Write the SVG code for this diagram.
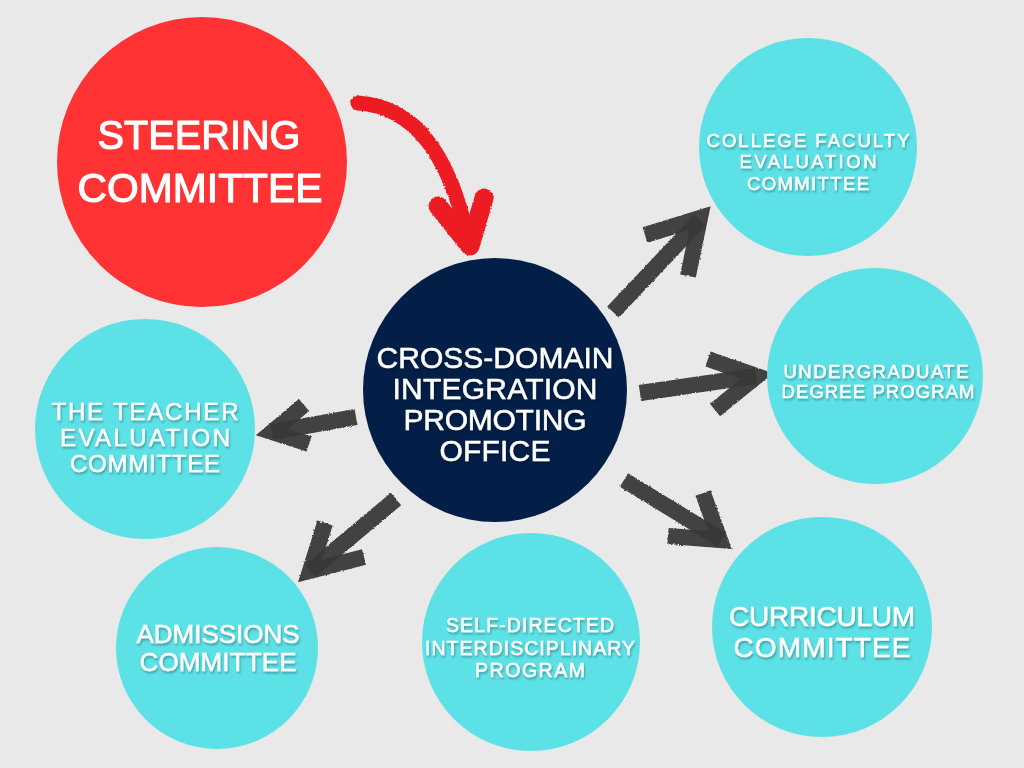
<svg xmlns="http://www.w3.org/2000/svg" width="1024" height="768" viewBox="0 0 1024 768">
  <defs>
    <filter id="noise" x="0" y="0" width="100%" height="100%">
      <feTurbulence type="fractalNoise" baseFrequency="0.9" numOctaves="2" seed="3" result="n"/>
      <feColorMatrix type="matrix" values="0 0 0 0 0.5  0 0 0 0 0.5  0 0 0 0 0.5  0 0 0 0.08 0"/>
    </filter>
    <filter id="shadow" x="-10%" y="-30%" width="120%" height="160%">
      <feDropShadow dx="1" dy="2" stdDeviation="1.2" flood-color="#000" flood-opacity="0.3"/>
    </filter>
    <filter id="rough" x="-10%" y="-10%" width="120%" height="120%">
      <feTurbulence type="fractalNoise" baseFrequency="0.6" numOctaves="2" seed="7" result="t"/>
      <feDisplacementMap in="SourceGraphic" in2="t" scale="2.5" xChannelSelector="R" yChannelSelector="G"/>
    </filter>
    <style>
      .bg { fill: #ebebeb; }
      .cyan { fill: #5ce1e6; }
      .red { fill: #ff3333; }
      .navy { fill: #031f47; }
      .t { font-family: "Liberation Sans", Arial, sans-serif; fill: #ffffff; text-anchor: middle; }
      .ts { filter: url(#shadow); stroke: #ffffff; stroke-width: 0.5; }
      .th { stroke: #ffffff; stroke-width: 1.1; }
      .mk { fill: none; stroke: #383838; stroke-width: 16; stroke-linecap: butt; stroke-linejoin: miter; opacity: 0.95; }
      .rd { fill: none; stroke: #ed1c24; stroke-linecap: round; stroke-linejoin: round; }
    </style>
  </defs>

  <rect class="bg" x="0" y="0" width="1024" height="768"/>
  <rect x="0" y="0" width="1024" height="768" filter="url(#noise)"/>

  <g id="connectors">
    <g id="arrow-steering" filter="url(#rough)">
      <path class="rd" d="M358,103 Q440,108 468,240" stroke-width="15"/>
      <path class="rd" d="M359,102 Q400,104 425,130" stroke-width="6"/>
      <polyline class="rd" points="438,206 470,246 484,198" stroke-width="19"/>
    </g>
    <g filter="url(#rough)">
      <g id="arrow-college">
        <path class="mk" d="M613,312 L700,220"/>
        <polyline class="mk" points="645,235 700,218 688,276"/>
      </g>
      <g id="arrow-undergrad">
        <path class="mk" d="M640,393 L756,376"/>
        <polyline class="mk" points="708,359 757,376 715,410"/>
      </g>
      <g id="arrow-teacher">
        <path class="mk" d="M356,417 L272,432"/>
        <polyline class="mk" points="304,405 272,432 309,444"/>
      </g>
      <g id="arrow-admissions">
        <path class="mk" d="M396,499 L310,571"/>
        <polyline class="mk" points="325,523 310,571 364,557"/>
      </g>
      <g id="arrow-curriculum">
        <path class="mk" d="M624,480 L722,540"/>
        <polyline class="mk" points="703,493 720,540 668,536"/>
      </g>
    </g>
  </g>

  <g id="steering-committee">
    <circle class="red" cx="202" cy="162" r="145"/>
    <g class="t th" font-size="40">
      <text x="199" y="149" textLength="203" lengthAdjust="spacingAndGlyphs">STEERING</text>
      <text x="200" y="202" textLength="245" lengthAdjust="spacingAndGlyphs">COMMITTEE</text>
    </g>
  </g>

  <g id="cross-domain-office">
    <circle class="navy" cx="495" cy="390" r="132"/>
    <g class="t ts" font-size="30" stroke-width="1.1">
      <text x="495" y="368" textLength="237" lengthAdjust="spacing">CROSS-DOMAIN</text>
      <text x="495" y="399" textLength="205" lengthAdjust="spacing">INTEGRATION</text>
      <text x="495" y="430" textLength="183" lengthAdjust="spacing">PROMOTING</text>
      <text x="495" y="461" textLength="111" lengthAdjust="spacing">OFFICE</text>
    </g>
  </g>

  <g id="college-faculty-evaluation-committee">
    <circle class="cyan" cx="808" cy="147" r="109"/>
    <g class="t ts" font-size="18.5">
      <text x="808" y="147" textLength="203" lengthAdjust="spacing">COLLEGE FACULTY</text>
      <text x="808" y="168" textLength="137" lengthAdjust="spacing">EVALUATION</text>
      <text x="808" y="190" textLength="122" lengthAdjust="spacing">COMMITTEE</text>
    </g>
  </g>

  <g id="undergraduate-degree-program">
    <circle class="cyan" cx="875" cy="376" r="108"/>
    <g class="t ts" font-size="18.5">
      <text x="876" y="378" textLength="185" lengthAdjust="spacing">UNDERGRADUATE</text>
      <text x="878" y="398" textLength="193" lengthAdjust="spacing">DEGREE PROGRAM</text>
    </g>
  </g>

  <g id="teacher-evaluation-committee">
    <circle class="cyan" cx="145" cy="429" r="110"/>
    <g class="t ts" font-size="24">
      <text x="145" y="420" textLength="187" lengthAdjust="spacing">THE TEACHER</text>
      <text x="145" y="446" textLength="170" lengthAdjust="spacing">EVALUATION</text>
      <text x="145" y="472" textLength="150" lengthAdjust="spacing">COMMITTEE</text>
    </g>
  </g>

  <g id="admissions-committee">
    <circle class="cyan" cx="217" cy="648" r="101"/>
    <g class="t ts" font-size="26">
      <text x="218" y="643" textLength="163" lengthAdjust="spacing">ADMISSIONS</text>
      <text x="218" y="671" textLength="157" lengthAdjust="spacing">COMMITTEE</text>
    </g>
  </g>

  <g id="self-directed-interdisciplinary-program">
    <circle class="cyan" cx="531" cy="642" r="109"/>
    <g class="t ts" font-size="19.5">
      <text x="530" y="632" textLength="168" lengthAdjust="spacing">SELF-DIRECTED</text>
      <text x="530" y="655" textLength="210" lengthAdjust="spacing">INTERDISCIPLINARY</text>
      <text x="530" y="677" textLength="110" lengthAdjust="spacing">PROGRAM</text>
    </g>
  </g>

  <g id="curriculum-committee">
    <circle class="cyan" cx="822" cy="627" r="110"/>
    <g class="t ts" font-size="28">
      <text x="822" y="626" textLength="186" lengthAdjust="spacing">CURRICULUM</text>
      <text x="822" y="657" textLength="177" lengthAdjust="spacing">COMMITTEE</text>
    </g>
  </g>
</svg>
